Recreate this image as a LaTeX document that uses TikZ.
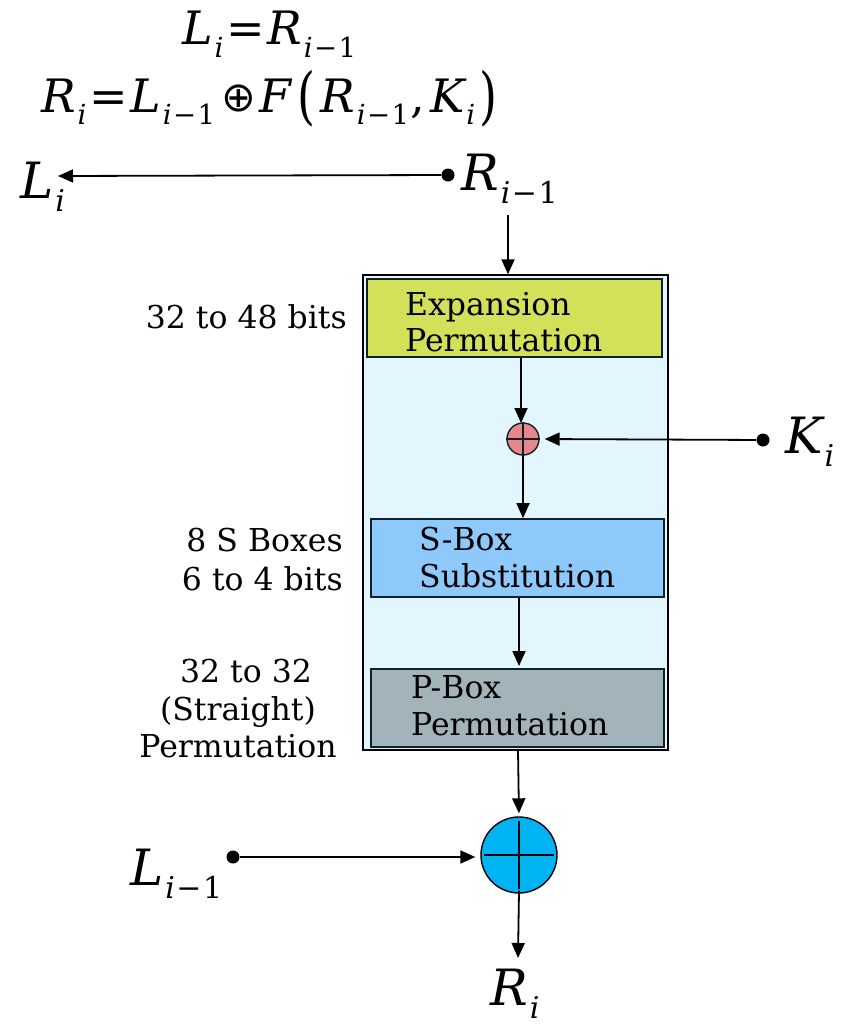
\documentclass[tikz,border=0pt]{standalone}
\usepackage{fontspec}
\setmainfont{DejaVu Serif}
\newfontfamily\dvsans{DejaVu Sans}
\usetikzlibrary{arrows.meta}
\definecolor{outerfill}{HTML}{E3F6FD}
\definecolor{expfill}{HTML}{D2E05A}
\definecolor{xorpink}{HTML}{E8878B}
\definecolor{sfill}{HTML}{8DC9FB}
\definecolor{pfill}{HTML}{A2B3B9}
\definecolor{bigxor}{HTML}{00B4F4}
\definecolor{edge}{HTML}{102028}
\newcommand\vs[2]{{\itshape #1}\kern.04em\raisebox{-.27em}{\scalebox{.6}{#2}}}
\newcommand\im{{\itshape i}\kern.05em−\kern.05em1}
\newcommand\bigpar[1]{\raisebox{-.12em}{\scalebox{1}[1.35]{#1}}}
\tikzset{
  arr/.style={line width=1.8pt, -{Triangle[length=15pt,width=13pt]}},
  boxst/.style={draw=edge, line width=1.6pt, inner sep=0pt},
  lab/.style={inner sep=0pt, font=\fontsize{31.5}{37}\selectfont},
  eq/.style={inner sep=0pt, font=\fontsize{46}{46}\selectfont},
  var/.style={inner sep=0pt, font=\fontsize{50}{50}\selectfont},
  dotst/.style={circle, fill=black, inner sep=0pt, minimum size=13pt},
}
\begin{document}
\begin{tikzpicture}[x=1pt,y=-1pt]
\path[use as bounding box] (0,0) rectangle (849,1025);
% equations
\node[eq, anchor=base west] (eq1) at (182,45) {\vs{L}{\itshape i}\kern.06em=\kern.06em\vs{R}{\im}};
\node[eq, anchor=base west] (eq2) at (41,112) {\vs{R}{\itshape i}\kern.06em=\kern.06em\vs{L}{\im}\kern.14em\raisebox{.01em}{\scalebox{.9}{\dvsans ⊕}}\kern.06em{\itshape F}\kern.15em\bigpar{(}\kern.1em\vs{R}{\im}\kern.02em,\kern.12em\vs{K}{\itshape i}\kern.1em\bigpar{)}};
% L_i and R_{i-1}
\node[var, anchor=base west] (Li) at (20,198) {\vs{L}{\itshape i}};
\coordinate (LiIn) at (58,176);
\node[dotst] (dR) at (448,175) {};
\node[var, anchor=base west] (Rim) at (461,190) {\vs{R}{\im}};
\draw[arr] (dR) -- (LiIn);
% outer box
\node[draw=black, line width=1.4pt, fill=outerfill, minimum width=305pt, minimum height=475pt, inner sep=0pt] (outer) at (515.5,512.5) {};
\coordinate (Rdown) at (508,215);
\draw[arr] (Rdown) -- (Rdown |- outer.north);
% expansion box
\node[boxst, fill=expfill, minimum width=295pt, minimum height=78pt] (exp) at (514.5,318) {};
\node[lab, anchor=base west] (expt1) at (405,315) {Expansion};
\node[lab, anchor=base west] (expt2) at (405,351) {Permutation};
% small xor
\node[circle, draw=edge, line width=1.4pt, fill=xorpink, minimum size=32pt, inner sep=0pt] (x1) at (523,439) {};
\draw[edge, line width=1.4pt] (x1.west) -- (x1.east) (x1.north) -- (x1.south);
\draw[arr] (exp.south -| 521,0) -- (521,423);
% key
\node[dotst] (dK) at (763,440) {};
\node[var, anchor=base west] (Ki) at (785,453) {\vs{K}{\itshape i}};
\draw[arr, shorten >=5pt] (dK) -- (x1.east);
% S box
\node[boxst, fill=sfill, minimum width=293pt, minimum height=78pt] (sbox) at (517.5,558) {};
\node[lab, anchor=base west] (st1) at (419,550) {S-Box};
\node[lab, anchor=base west] (st2) at (419,587) {Substitution};
\draw[arr] (x1.south) -- (x1.south |- sbox.north);
% P box
\node[boxst, fill=pfill, minimum width=293pt, minimum height=78pt] (pbox) at (517.5,708) {};
\node[lab, anchor=base west] (pt1) at (411,698) {P-Box};
\node[lab, anchor=base west] (pt2) at (411,735) {Permutation};
\draw[arr, shorten >=3pt] (sbox.south -| 519,0) -- (519,669);
% big xor
\node[circle, draw=black, line width=1.4pt, fill=bigxor, minimum size=76pt, inner sep=0pt] (x2) at (519,855) {};
\draw[line width=1.6pt] ([xshift=-35pt]x2.center) -- ([xshift=35pt]x2.center)
  ([yshift=-34pt]x2.center) -- ([yshift=34pt]x2.center);
\draw[arr, shorten >=3pt] (outer.south -| 518,0) -- (x2.north);
% L_{i-1}
\node[dotst] (dL) at (233,857) {};
\node[var, anchor=base west] (Lim) at (130,885) {\vs{L}{\im}};
\draw[arr, shorten >=5pt] (dL) -- (dL -| x2.west);
% R_i
\node[var, anchor=base west] (Ri) at (490,1005) {\vs{R}{\itshape i}};
\coordinate (RiIn) at (518,958);
\draw[arr] (x2.south) ++(0,3pt) coordinate (x2out) (x2out) -- (RiIn);
% left labels
\node[lab, anchor=base east] (l1) at (347,328) {32 to 48 bits};
\node[lab, anchor=base east] (l2a) at (343,551) {8 S Boxes};
\node[lab, anchor=base east] (l2b) at (343,590) {6 to 4 bits};
\node[lab, anchor=base] (l3a) at (246,682) {32 to 32};
\node[lab, anchor=base] (l3b) at (238,720) {(Straight)};
\node[lab, anchor=base] (l3c) at (238,757) {Permutation};
\end{tikzpicture}
\end{document}
